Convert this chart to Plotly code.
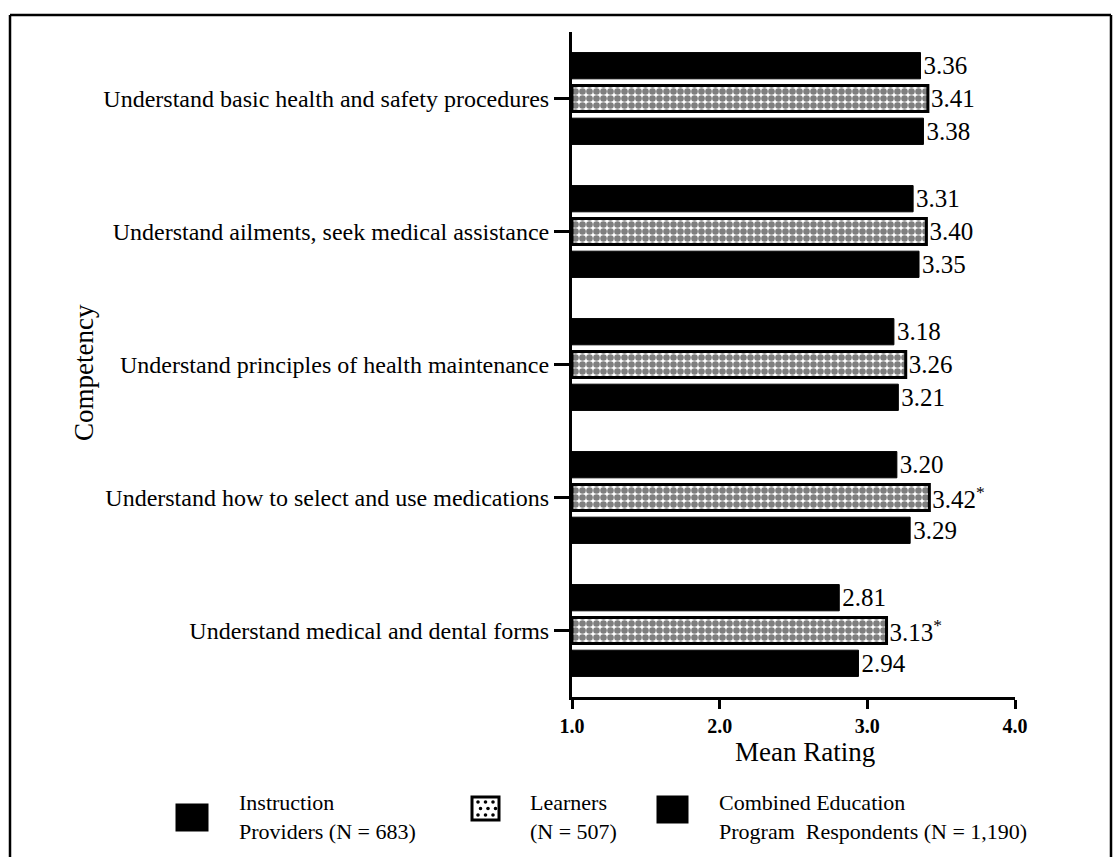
import plotly.graph_objects as go

competencies = [
    "Understand basic health and safety procedures",
    "Understand ailments, seek medical assistance",
    "Understand principles of health maintenance",
    "Understand how to select and use medications",
    "Understand medical and dental forms",
]
providers = [3.36, 3.31, 3.18, 3.20, 2.81]
learners = [3.41, 3.40, 3.26, 3.42, 3.13]
learners_sig = ["", "", "", "*", "*"]
combined = [3.38, 3.35, 3.21, 3.29, 2.94]
x_ticks = [1.0, 2.0, 3.0, 4.0]

SERIF = "Liberation Serif, Times New Roman, serif"

W, H = 1116, 857
L, R, T, B = 572, 101, 32, 160
PW, PH = W - L - R, H - T - B


def px(x):
    return (x - L) / PW


def py(y):
    return (H - B - y) / PH


fig = go.Figure()

label_font = dict(family=SERIF, size=25, color="black")
common = dict(orientation="h", base=1, textposition="outside",
              textfont=label_font, cliponaxis=False, constraintext="none")

fig.add_trace(go.Bar(
    y=competencies, x=[v - 1 for v in providers],
    name="Instruction Providers (N = 683)",
    marker=dict(color="black", line=dict(color="black", width=1)),
    text=[f"{v:.2f}" for v in providers], **common,
))
fig.add_trace(go.Bar(
    y=competencies, x=[v - 1 for v in learners],
    name="Learners (N = 507)",
    marker=dict(color="white", line=dict(color="black", width=3),
                pattern=dict(shape=".", fgcolor="black", bgcolor="white",
                             size=7, solidity=0.7)),
    text=[f"{v:.2f}<sup>{s}</sup>" for v, s in zip(learners, learners_sig)],
    **common,
))
fig.add_trace(go.Bar(
    y=competencies, x=[v - 1 for v in combined],
    name="Combined Education Program Respondents (N = 1,190)",
    marker=dict(color="black", line=dict(color="black", width=1)),
    text=[f"{v:.2f}" for v in combined], **common,
))

fig.update_layout(
    width=W, height=H,
    margin=dict(l=L, r=R, t=T, b=B),
    paper_bgcolor="white", plot_bgcolor="white",
    barmode="group", bargap=0.26, bargroupgap=0.2,
    showlegend=False,
    font=dict(family=SERIF, color="black"),
    xaxis=dict(
        range=[1, 4], tickvals=x_ticks, ticktext=[f"<b>{t:.1f}</b>" for t in x_ticks],
        showgrid=False, zeroline=False, showline=True, linecolor="black",
        linewidth=3, ticks="outside", ticklen=9, tickwidth=3, tickcolor="black",
        tickfont=dict(family=SERIF, size=20, color="black"),
    ),
    yaxis=dict(
        autorange="reversed", showgrid=False, zeroline=False,
        showline=True, linecolor="black", linewidth=3,
        ticks="outside", ticklen=15, tickwidth=2.5, tickcolor="black",
        tickfont=dict(family=SERIF, size=24, color="black"),
    ),
)

# axis titles
fig.add_annotation(x=px(805), y=py(752), xref="paper", yref="paper",
                   xanchor="center", yanchor="middle",
                   text="Mean Rating", showarrow=False,
                   font=dict(family=SERIF, size=27, color="black"))
fig.add_annotation(x=px(84), y=py(373), xref="paper", yref="paper",
                   xanchor="center", yanchor="middle",
                   text="Competency", textangle=-90, showarrow=False,
                   font=dict(family=SERIF, size=27, color="black"))

# legend: swatches and labels
legend_items = [
    (177, 207, 805, 830, "black", False, 237, "Instruction<br>Providers (N = 683)"),
    (472, 499, 797, 820, "white", True, 528, "Learners<br>(N = 507)"),
    (658, 687, 797, 822, "black", False, 717, "Combined Education<br>Program  Respondents (N = 1,190)"),
]
for x0, x1, y0, y1, col, dotted, tx, label in legend_items:
    fig.add_shape(type="rect", xref="paper", yref="paper",
                  x0=px(x0), x1=px(x1), y0=py(y1), y1=py(y0),
                  fillcolor=col, line=dict(color="black", width=3))
    if dotted:
        for i in range(3):
            for j in range(3):
                cx = x0 + 6 + i * 7.5 + (2.5 if j % 2 else 0)
                cy = y0 + 5 + j * 6.5
                fig.add_shape(type="circle", xref="paper", yref="paper",
                              x0=px(cx - 1.8), x1=px(cx + 1.8),
                              y0=py(cy + 1.8), y1=py(cy - 1.8),
                              fillcolor="black", line=dict(width=0))
    fig.add_annotation(x=px(tx), y=py(817), xref="paper", yref="paper",
                       xanchor="left", yanchor="middle", align="left",
                       text=label, showarrow=False,
                       font=dict(family=SERIF, size=22, color="black"))

# page frame
for x0, y0, x1, y1 in [(10, 15, 1111, 15), (10, 15, 10, 857), (1111, 15, 1111, 857)]:
    fig.add_shape(type="line", xref="paper", yref="paper",
                  x0=px(x0), y0=py(y0), x1=px(x1), y1=py(y1),
                  line=dict(color="black", width=2.5))

fig.write_html("out.html")
